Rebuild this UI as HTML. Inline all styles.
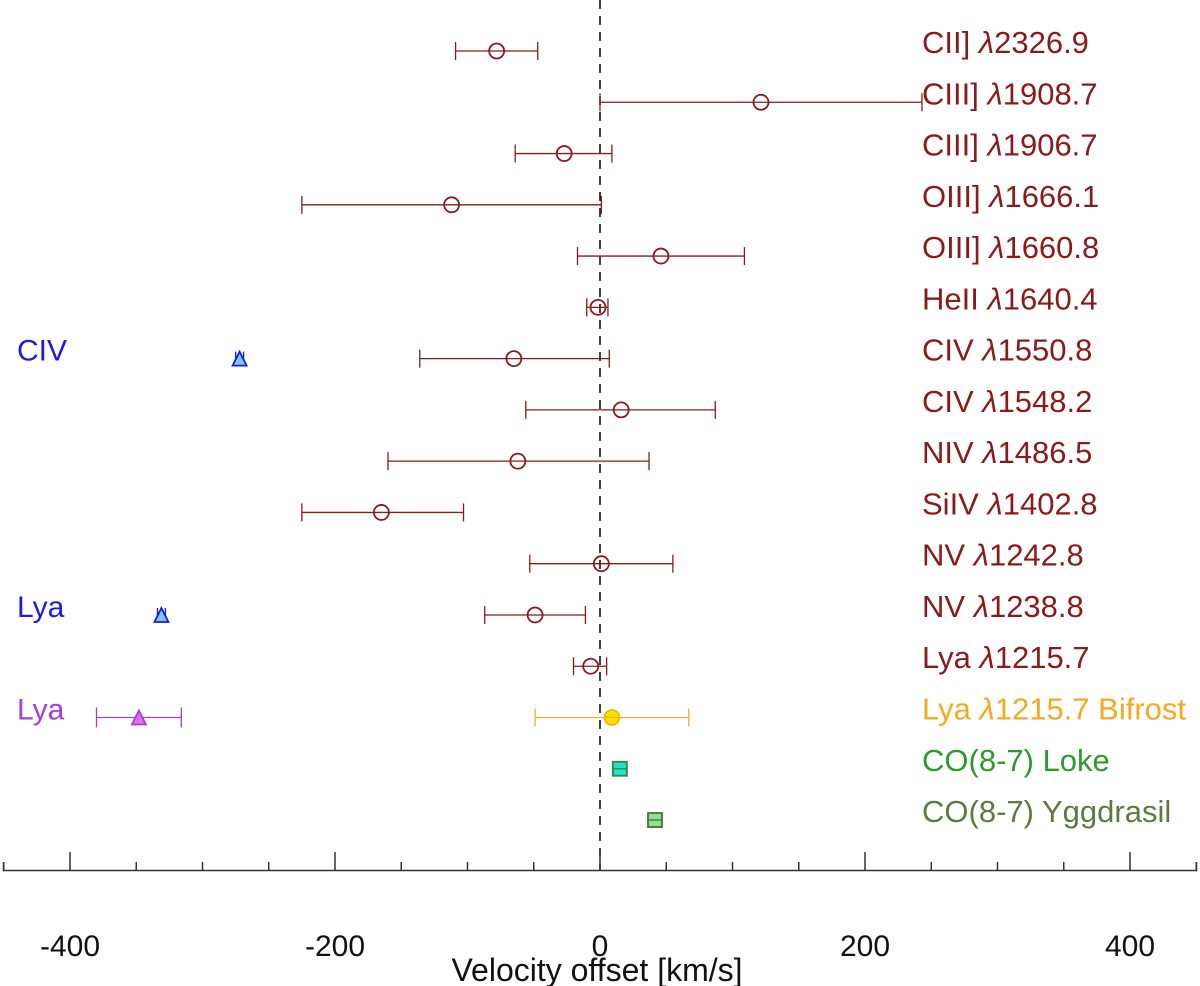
<!DOCTYPE html>
<html><head><meta charset="utf-8"><style>
body{margin:0;background:#fff;}
svg{display:block;font-family:"Liberation Sans",sans-serif;}
</style></head><body>
<svg id="chart" width="1200" height="986"></svg>
<script>
const labels=["CII] λ2326.9","CIII] λ1908.7","CIII] λ1906.7","OIII] λ1666.1","OIII] λ1660.8","HeII λ1640.4","CIV λ1550.8","CIV λ1548.2","NIV λ1486.5","SiIV λ1402.8","NV λ1242.8","NV λ1238.8","Lya λ1215.7","Lya λ1215.7 Bifrost","CO(8-7) Loke","CO(8-7) Yggdrasil"];
const vel=[-78,121.5,-27,-112,46,-1.5,-65,16,-62,-165,1,-49,-7,9,15,41.5];
const lo=[-109,0,-64,-225,-17,-10,-136,-56,-160,-225,-53,-87,-20,-49,11,38];
const hi=[-47,243,9,1,109,6,7,87,37,-103,55,-11,5,67,19,45];
const kind=["c","c","c","c","c","c","c","c","c","c","c","c","c","y","s1","s2"];
const triLabels=["CIV","Lya","Lya"];
const triRow=[6,11,13];
const triVel=[-272,-331,-348];
const triLo=[-275,-334,-380];
const triHi=[-269,-328,-316];
const ticks=[-400,-200,0,200,400];
const minor=[-450,-350,-300,-250,-150,-100,-50,50,100,150,250,300,350,450];

const NS="http://www.w3.org/2000/svg";
const svg=document.getElementById('chart');
const X=v=>600+v*1.325;
const Y=i=>51+i*51.27;
function el(t,a,p){const e=document.createElementNS(NS,t);for(const k in a)e.setAttribute(k,a[k]);(p||svg).appendChild(e);return e;}
const red="#8b1a1a";
const labCol=i=>i==13?"#f5a820":i==14?"#2e9a2e":i==15?"#5e7a3c":"#8b1a1a";
const errCol=i=>i==13?"#f0b030":i==14?"#2e8a3e":i==15?"#4e6e3c":red;

let z=el('line',{x1:X(0),x2:X(0),y1:0,y2:870,stroke:"#000","stroke-width":1.5,"stroke-dasharray":"9,7"});



let ax=el('line',{x1:3,x2:1197,y1:870.5,y2:870.5,stroke:"#333","stroke-width":1.5});


el('line',{x1:3.5,x2:3.5,y1:862,y2:871,stroke:"#333","stroke-width":1.5});
el('line',{x1:1196.5,x2:1196.5,y1:862,y2:871,stroke:"#333","stroke-width":1.5});
ticks.forEach(t=>{
 const l=el('line',{x1:X(t),x2:X(t),y1:852,y2:871,stroke:"#333","stroke-width":1.5});
 
 
 const tx=el('text',{x:X(t),y:956,"text-anchor":"middle","font-size":30,fill:"#111"});
 tx.textContent=t;
 
 
});
minor.forEach(t=>{
 const l=el('line',{x1:X(t),x2:X(t),y1:862,y2:871,stroke:"#333","stroke-width":1.5});
 
 
});
let tt=el('text',{x:597,y:981,"text-anchor":"middle","font-size":32,fill:"#111"});
tt.textContent="Velocity offset [km/s]";



function errbar(y,a,b,c,cap){
 el('line',{x1:X(a),x2:X(b),y1:y,y2:y,stroke:c,"stroke-width":1.3});
 el('line',{x1:X(a),x2:X(a),y1:y-cap,y2:y+cap,stroke:c,"stroke-width":1.3});
 el('line',{x1:X(b),x2:X(b),y1:y-cap,y2:y+cap,stroke:c,"stroke-width":1.3});
}
labels.forEach((lab,i)=>{
 const y=Y(i);
 const g=el('g',{});
 
 
 if(kind[i]=="c"){
  errbar(y,lo[i],hi[i],red,9);
  el('circle',{cx:X(vel[i]),cy:y,r:7.5,fill:"none",stroke:red,"stroke-width":1.8},g);
 }else if(kind[i]=="y"){
  errbar(y,lo[i],hi[i],errCol(i),9);
  el('circle',{cx:X(vel[i]),cy:y,r:7.5,fill:"#ffe000",stroke:"#e8b000","stroke-width":1.5},g);
 }else{
  const fill=kind[i]=="s1"?"#20e0d0":"#90e090";
  const st=kind[i]=="s1"?"#2e8a3e":"#4e6e3c";
  el('rect',{x:X(vel[i])-7,y:y-7,width:14,height:14,fill:fill,stroke:st,"stroke-width":1.8},g);
  el('line',{x1:X(vel[i])-7,x2:X(vel[i])+7,y1:y,y2:y,stroke:st,"stroke-width":1.3},g);
 }
 const t=el('text',{x:922,y:y+2,"font-size":31,fill:labCol(i)});
 const parts=lab.split('λ');
 t.appendChild(document.createTextNode(parts[0]));
 if(parts.length>1){const s=el('tspan',{"font-style":"italic"},t);s.textContent='λ';t.appendChild(document.createTextNode(parts[1]));}
 
 
});
triLabels.forEach((lab,j)=>{
 const y=Y(triRow[j]);
 const purple=j==2;
 const c=purple?"#a040d8":"#1a1ae0";
 const fill=purple?"#e070e8":"#80c8f0";
 errbar(y,triLo[j],triHi[j],c,purple?10:7);
 const x=X(triVel[j]);
 const p=el('polygon',{points:`${x-7},${y+7} ${x+7},${y+7} ${x},${y-7}`,fill:fill,stroke:c,"stroke-width":1.8});
 
 
 const t=el('text',{x:17,y:y+2,"font-size":30,fill:purple?"#a040e0":"#1a1ae8"});
 t.textContent=lab;
 
 
});
</script>
</body></html>
